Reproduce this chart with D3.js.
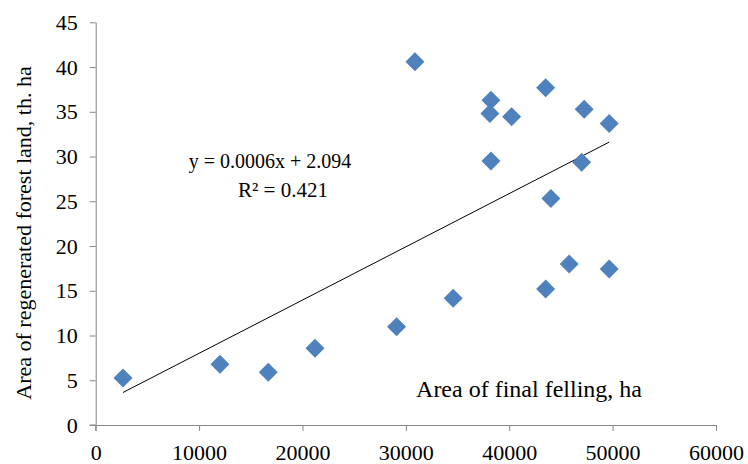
<!DOCTYPE html>
<html>
<head>
<meta charset="utf-8">
<script src="https://cdn.jsdelivr.net/npm/d3@7"></script>
<style>
  body { margin: 0; background: #fff; }
  text { font-family: "Liberation Serif", "Times New Roman", serif; fill: #000; }
</style>
</head>
<body>
<div id="chart"></div>
<script>
// final felling area (ha) vs regenerated forest land (th. ha)
var felling = [2640, 12020, 16690, 21210, 29100, 34580, 30880, 38230, 38130, 40230,
               43520, 47250, 49670, 38230, 47000, 44030, 43520, 45800, 49670];
var regenerated = [5.25, 6.78, 5.89, 8.57, 10.98, 14.16, 40.6, 36.3, 34.8, 34.45,
                   37.7, 35.27, 33.7, 29.5, 29.35, 25.3, 15.2, 18.0, 17.43];
var xTicks = [0, 10000, 20000, 30000, 40000, 50000, 60000];
var yTicks = [0, 5, 10, 15, 20, 25, 30, 35, 40, 45];
var equationText = 'y = 0.0006x + 2.094';
var r2Text = 'R² = 0.421';

var width = 748, height = 464;
var margin = {left: 95.7, right: 32, top: 22.3, bottom: 39};

var svg = d3.select('#chart').append('svg')
  .attr('width', width)
  .attr('height', height);

var x = d3.scaleLinear().domain([0, 60000]).range([margin.left, width - margin.right]);
var y = d3.scaleLinear().domain([0, 45]).range([height - margin.bottom, margin.top]);

var axisColor = '#868686';

var xAxis = svg.append('g')
  .attr('transform', 'translate(0,' + y(0) + ')')
  .call(d3.axisBottom(x).tickValues(xTicks).tickSize(6).tickSizeOuter(0).tickPadding(10).tickFormat(d3.format('d')));

var yAxis = svg.append('g')
  .attr('transform', 'translate(' + x(0) + ',0)')
  .call(d3.axisLeft(y).tickValues(yTicks).tickSize(6).tickSizeOuter(0).tickPadding(12));

[xAxis, yAxis].forEach(function(g){
  g.select('.domain').attr('stroke', axisColor);
  g.selectAll('.tick line').attr('stroke', axisColor);
  g.selectAll('.tick text')
    .style('font-family', '"Liberation Serif", serif')
    .style('font-size', '22px')
    .attr('fill', '#000');
});
xAxis.selectAll('.tick text').attr('dy', '0.85em');

// extend the axes lines past the origin like the excel chart
svg.append('line')
  .attr('x1', x(0) - 6).attr('x2', x(0))
  .attr('y1', y(0)).attr('y2', y(0))
  .attr('stroke', axisColor);
svg.append('line')
  .attr('x1', x(0)).attr('x2', x(0))
  .attr('y1', y(0)).attr('y2', y(0) + 6)
  .attr('stroke', axisColor);

// linear trend line (least squares)
var n = felling.length;
var mx = d3.mean(felling), my = d3.mean(regenerated);
var sxy = 0, sxx = 0;
for (var i = 0; i < n; i++) {
  sxy += (felling[i] - mx) * (regenerated[i] - my);
  sxx += (felling[i] - mx) * (felling[i] - mx);
}
var slope = sxy / sxx;
var intercept = my - slope * mx;
var xMin = d3.min(felling), xMax = d3.max(felling);

svg.append('line')
  .attr('x1', x(xMin)).attr('y1', y(intercept + slope * xMin))
  .attr('x2', x(xMax)).attr('y2', y(intercept + slope * xMax))
  .attr('stroke', '#000')
  .attr('stroke-width', 1);

// diamonds
var points = felling.map(function(d, i){ return {x: d, y: regenerated[i]}; });
svg.selectAll('path.pt').data(points)
  .enter().append('path')
  .attr('class', 'pt')
  .attr('d', 'M0,-9.5L9.5,0L0,9.5L-9.5,0Z')
  .attr('transform', function(d){ return 'translate(' + x(d.x) + ',' + y(d.y) + ')'; })
  .attr('fill', '#4f81bd');

// labels
svg.append('text')
  .attr('x', 270).attr('y', 168)
  .attr('text-anchor', 'middle')
  .style('font-size', '20px')
  .text(equationText);
svg.append('text')
  .attr('x', 283).attr('y', 197)
  .attr('text-anchor', 'middle')
  .style('font-size', '21px')
  .text(r2Text);

svg.append('text')
  .attr('x', 529).attr('y', 397)
  .attr('text-anchor', 'middle')
  .style('font-size', '24px')
  .text('Area of final felling, ha');

svg.append('text')
  .attr('transform', 'translate(31,233) rotate(-90)')
  .attr('text-anchor', 'middle')
  .style('font-size', '22px')
  .text('Area of regenerated forest land, th. ha');
</script>
</body>
</html>
